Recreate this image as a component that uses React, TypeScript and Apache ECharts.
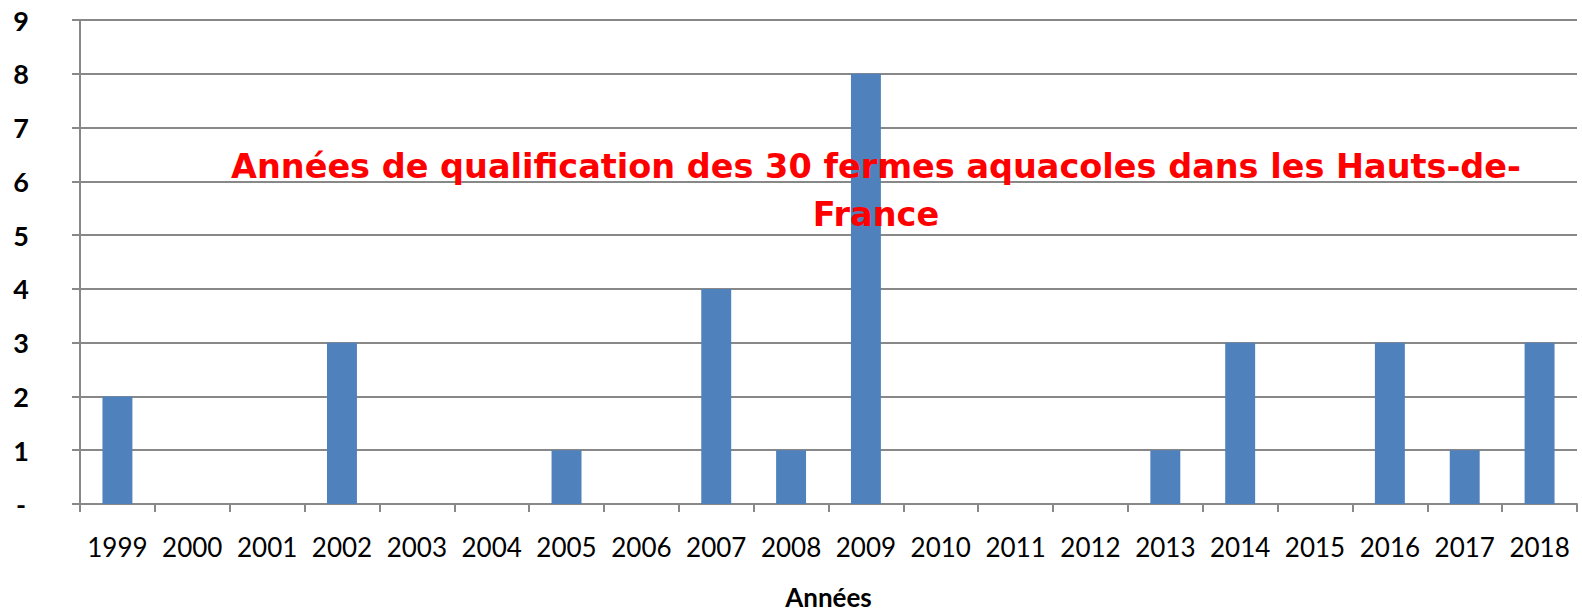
import React, { useEffect, useRef } from "react";
import * as echarts from "echarts";

const years = ["1999","2000","2001","2002","2003","2004","2005","2006","2007","2008","2009","2010","2011","2012","2013","2014","2015","2016","2017","2018"];
const counts = [2,0,0,3,0,0,1,0,4,1,8,0,0,0,1,3,0,3,1,3];
const titleLines = ["Années de qualification des 30 fermes aquacoles dans les Hauts-de-", "France"];
const xName = "Années";

export default function App() {
  const ref = useRef<HTMLDivElement>(null);
  useEffect(() => {
    document.body.style.margin = "0";
    const chart = echarts.init(ref.current!, null, { renderer: "svg" });
    const font = "Lato, 'Open Sans', sans-serif";
    chart.setOption({
      animation: false,
      textStyle: { fontFamily: font },
      grid: { left: 80, right: 5, top: 20, bottom: 111, outerBoundsMode: "none", containLabel: false },
      xAxis: {
        type: "category",
        data: years,
        name: xName,
        nameLocation: "middle",
        nameGap: 80,
        nameTextStyle: { fontSize: 26, lineHeight: 26, fontWeight: "bold", color: "#000", fontFamily: font },
        axisLine: { lineStyle: { color: "#888", width: 2 } },
        axisTick: { show: true, length: 8, lineStyle: { color: "#888", width: 2 } },
        axisLabel: { fontSize: 26, color: "#000", margin: 30, fontFamily: font, interval: 0 },
        splitLine: { show: false },
      },
      yAxis: {
        type: "value",
        min: 0,
        max: 9,
        interval: 1,
        axisLine: { show: true, lineStyle: { color: "#888", width: 2 } },
        axisTick: { show: true, length: 8, lineStyle: { color: "#888", width: 2 } },
        axisLabel: {
          fontSize: 27,
          fontWeight: "bold",
          color: "#000",
          align: "center",
          margin: 59,
          fontFamily: font,
          formatter: (v: number) => (v === 0 ? "-" : String(v)),
        },
        splitLine: { show: true, lineStyle: { color: "#888", width: 2 } },
      },
      series: [
        {
          type: "bar",
          data: counts,
          barWidth: "40%",
          itemStyle: { color: "#4F81BD" },
        },
      ],
      graphic: [
        {
          type: "text",
          x: 876,
          y: 142,
          z: 100,
          style: {
            text: titleLines.join("\n"),
            textAlign: "center",
            textVerticalAlign: "top",
            fill: "#FF0000",
            fontSize: 33.5,
            fontWeight: "bold",
            fontFamily: "'DejaVu Sans', sans-serif",
            lineHeight: 48,
          },
        },
      ],
    });
    return () => chart.dispose();
  }, []);
  return <div ref={ref} style={{ width: 1582, height: 615 }} />;
}
